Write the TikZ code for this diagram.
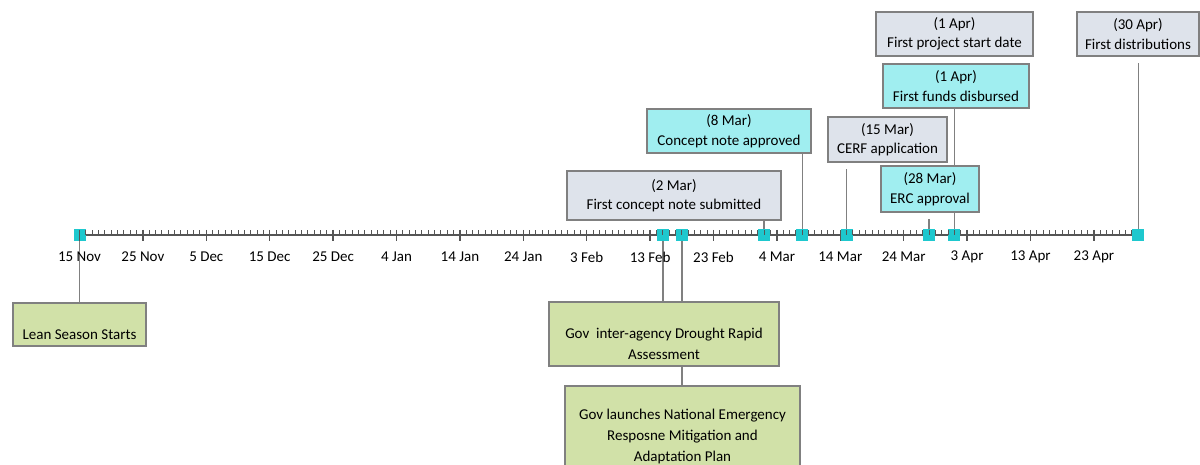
\documentclass[tikz,border=0pt]{standalone}
\usepackage{fontspec}
\setmainfont{Carlito}
\usetikzlibrary{backgrounds}

\definecolor{evgrey}{RGB}{222,227,235}
\definecolor{evcyan}{RGB}{160,238,240}
\definecolor{evgreen}{RGB}{209,225,168}
\definecolor{markcyan}{RGB}{30,200,206}
\definecolor{edgegrey}{RGB}{128,128,128}
\definecolor{axisgrey}{RGB}{85,85,85}

\begin{document}
\begin{tikzpicture}[
  x=1pt, y=-1pt,
  font=\fontsize{15}{19.5}\selectfont,
  event/.style={draw=edgegrey, line width=1.6pt, align=center, inner sep=0pt},
  grey/.style={event, fill=evgrey},
  cyan/.style={event, fill=evcyan},
  green/.style={event, fill=evgreen, font=\fontsize{15}{21}\selectfont},
  dot/.style={fill=markcyan, minimum size=12, inner sep=0pt},
  link/.style={draw=edgegrey, line width=1.6pt},
  gap/.style={shorten >=6pt},
  daylab/.style={inner sep=0pt}
]
\useasboundingbox (0,0) rectangle (1200,465);

% axis markers
\node[dot] (nov15) at (79.5,235) {};
\node[dot] (feb15) at (662.8,235) {};
\node[dot] (feb18) at (681.8,235) {};
\node[dot] (mar2) at (764.2,235) {};
\node[dot] (mar8) at (802.3,235) {};
\node[dot] (mar15) at (846.6,235) {};
\node[dot] (mar28) at (929.1,235) {};
\node[dot] (apr1) at (954.4,235) {};
\node[dot] (apr30) at (1138.3,235) {};

% events above the axis
\node[grey, minimum width=157, minimum height=44] (start) at (954.5,34)
  {(1 Apr)\\First project start date};
\node[grey, minimum width=122, minimum height=44] (distrib) at (1138,34)
  {(30 Apr)\\First distributions};
\node[cyan, minimum width=146, minimum height=44] (funds) at (956,86)
  {(1 Apr)\\First funds disbursed};
\node[cyan, minimum width=164, minimum height=44] (approved) at (729,131)
  {(8 Mar)\\Concept note approved};
\node[grey, minimum width=119, minimum height=45] (cerf) at (887.5,139.5)
  {(15 Mar)\\CERF application};
\node[cyan, minimum width=98, minimum height=46] (erc) at (930,189)
  {(28 Mar)\\ERC approval};
\node[grey, minimum width=214, minimum height=49] (submitted) at (674,195.5)
  {(2 Mar)\\First concept note submitted};

% events below the axis
\node[green, minimum width=133, minimum height=43] (lean) at (79.5,324.5)
  {\\[10pt]Lean Season Starts};
\node[green, minimum width=230, minimum height=64] (assess) at (664,334)
  {\\[10pt]Gov~ inter-agency Drought Rapid\\Assessment};
\node[green, minimum width=235, minimum height=90, anchor=north] (plan) at (682.5,385)
  {\\Gov launches National Emergency\\Resposne Mitigation and\\Adaptation Plan};

% scale
\foreach \d in {1,...,166}
  \draw[axisgrey, line width=1pt] (79.5+6.34*\d,235) -- ++(0,-5);
\foreach \d/\lab in {0/15 Nov,10/25 Nov,20/5 Dec,30/15 Dec,40/25 Dec,50/4 Jan,
    60/14 Jan,70/24 Jan,80/3 Feb,90/13 Feb,100/23 Feb,110/4 Mar,120/14 Mar,
    130/24 Mar,140/3 Apr,150/13 Apr,160/23 Apr}
{
  \draw[axisgrey, line width=1.3pt] (79.5+6.34*\d,230) -- ++(0,11);
  \node[daylab] at (79.5+6.34*\d,257) {\lab};
}

\begin{scope}[on background layer]
\draw[axisgrey, line width=1.6pt] (nov15) -- (apr30);
\draw[link] (nov15) -- (nov15 |- lean.north);
\draw[link] (feb15) -- (feb15 |- assess.north);
\draw[link] (feb18) -- (feb18 |- plan.north);
\draw[link] (mar2) -- (mar2 |- submitted.south);
\draw[link] (mar8) -- (mar8 |- approved.south);
\draw[link, gap] (mar15) -- (mar15 |- cerf.south);
\draw[link, gap] (mar28) -- (mar28 |- erc.south);
\draw[link, gap] (apr1) -- (apr1 |- start.south);
\draw[link, gap] (apr30) -- (apr30 |- distrib.south);
\end{scope}
\end{tikzpicture}
\end{document}
